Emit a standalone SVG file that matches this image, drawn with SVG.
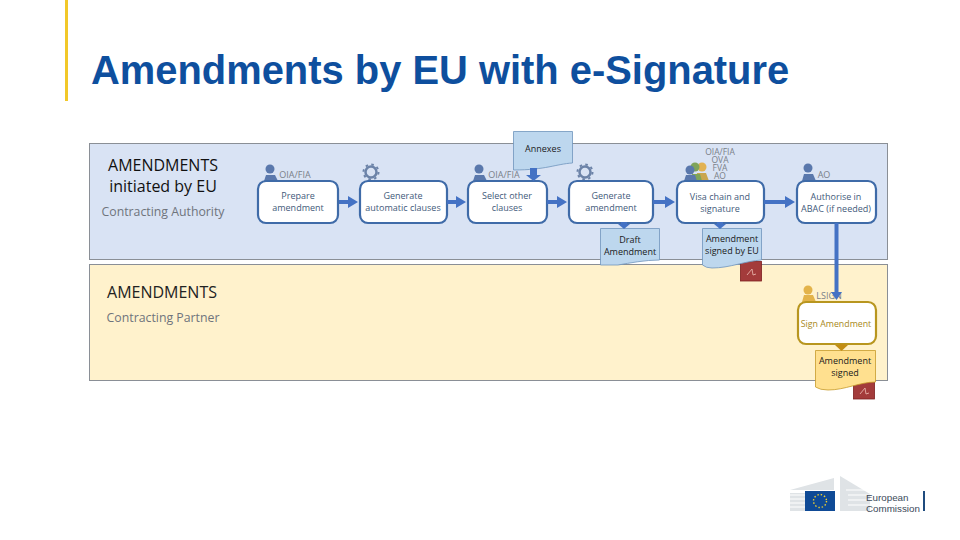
<svg xmlns="http://www.w3.org/2000/svg" width="960" height="540" viewBox="0 0 960 540">
<style>
text{font-family:"Open Sans","Noto Sans","Liberation Sans",sans-serif;text-anchor:middle}
.t{font-size:9px;fill:#3f5a7a}
.k{font-size:9px;fill:#1a1a1a}
.g{font-size:9px;fill:#7a7f88}
.m{font-size:8.500px;fill:#7a7f88}
.box{fill:#fff;stroke:#3f6ba8;stroke-width:2.2}
.doc{fill:#bdd7ee;stroke:#6f94bd;stroke-width:.8}
.ydoc{fill:#ffe08f;stroke:#c79b2a;stroke-width:.8}
.con{stroke:#4472c4;stroke-width:4;fill:none}
.ah{fill:#4472c4}
.p{fill:#5a78ac}
.gear{fill:none;stroke:#6c83a8;stroke-width:2.5}
.seal{fill:#a33b3b;stroke:#7d1f1f;stroke-width:.8}
.pen{fill:none;stroke:#e7b0a8;stroke-width:.9}
</style>
<rect width="960" height="540" fill="#fff"/>
<rect id="accent" x="65" y="0" width="3" height="101" fill="#f2c829"/>
<text id="title" x="91" y="84" style="font-family:'Liberation Sans',Arial,sans-serif;font-size:39.900px;font-weight:bold;fill:#0e4f9e;text-anchor:start">Amendments by EU with e-Signature</text>

<g id="lane-ca">
<rect x="89.500" y="143.500" width="798" height="116" fill="#d9e3f4" stroke="#8a8f96"/>
<text x="163" y="171" style="font-size:16px;fill:#111">AMENDMENTS</text>
<text x="163" y="192" style="font-size:16px;fill:#111">initiated by EU</text>
<text x="163" y="216" style="font-size:12.300px;fill:#6f747c">Contracting Authority</text>
</g>
<g id="lane-cp">
<rect x="89.500" y="264.500" width="798" height="116" fill="#fff2cc" stroke="#8a8f96"/>
<text x="162" y="298" style="font-size:16px;fill:#222">AMENDMENTS</text>
<text x="163" y="322" style="font-size:12.300px;fill:#6f747c">Contracting Partner</text>
</g>

<g id="prepare">
<g class="p"><circle cx="270" cy="169" r="4.500"/><path d="M264 181l2-6h9l3 6z"/></g>
<text class="g" x="295" y="178">OIA/FIA</text>
<rect class="box" x="258" y="181" width="80" height="42" rx="8"/>
<text class="t" x="298" y="199">Prepare</text><text class="t" x="298" y="211">amendment</text>
</g>
<g id="generate-clauses">
<circle class="gear" cx="371" cy="172" r="5.500"/>
<circle cx="371" cy="172" r="7.500" fill="none" stroke="#6c83a8" stroke-width="2" stroke-dasharray="2.500 3.400"/>
<rect class="box" x="360" y="181" width="87" height="42" rx="8"/>
<text class="t" x="403" y="199">Generate</text><text class="t" x="403" y="211">automatic clauses</text>
</g>
<g id="select">
<g class="p"><circle cx="479" cy="169" r="4.500"/><path d="M473 181l2-6h9l3 6z"/></g>
<text class="g" x="504" y="178">OIA/FIA</text>
<rect class="box" x="468" y="181" width="79" height="42" rx="8"/>
<text class="t" x="507" y="199">Select other</text><text class="t" x="507" y="211">clauses</text>
</g>
<g id="annexes">
<path class="doc" d="M513.500 131.500H572.500V163C556 164 546 170 513.500 170Z"/>
<text class="k" x="543" y="152">Annexes</text>
</g>
<g id="generate-amendment">
<circle class="gear" cx="585" cy="172" r="5.500"/>
<circle cx="585" cy="172" r="7.500" fill="none" stroke="#6c83a8" stroke-width="2" stroke-dasharray="2.500 3.400"/>
<rect class="box" x="569" y="181" width="84" height="42" rx="8"/>
<text class="t" x="611" y="199">Generate</text><text class="t" x="611" y="211">amendment</text>
</g>
<g id="draft">
<path class="doc" d="M600.500 228.500H659.500V260C645 260 630 263 618 265H600.500Z"/>
<text class="k" x="630" y="243">Draft</text><text class="k" x="630" y="255">Amendment</text>
</g>
<g id="visa">
<circle cx="702" cy="167" r="4.500" fill="#e2b252"/><circle cx="695" cy="167" r="4.500" fill="#7fa45a"/><circle cx="690" cy="170" r="4.500" fill="#5a78ac"/>
<path d="M696 181l1-8h9l3 8z" fill="#c9a64f"/><path d="M691 181l1-7h8l2 7z" fill="#7fa45a"/><path d="M684 181l2-6h9l2 6z" fill="#5a78ac"/>
<text class="m" x="720" y="155">OIA/FIA</text><text class="m" x="720" y="163">OVA</text><text class="m" x="720" y="171">FVA</text><text class="m" x="720" y="179">AO</text>
<rect class="box" x="677" y="181" width="87" height="42" rx="8"/>
<text class="t" x="720" y="200">Visa chain and</text><text class="t" x="720" y="212">signature</text>
</g>
<g id="signed-eu">
<rect class="seal" x="740.500" y="261.500" width="21" height="19.500"/>
<path class="pen" d="M747 275l5-6 1 6 3-1"/>
<path class="doc" d="M702.500 228.500H761.500V260C745 261 730 268 712 268Q706 268 702.500 265Z"/>
<text class="k" x="732" y="242">Amendment</text><text class="k" x="732" y="254">signed by EU</text>
</g>
<g id="authorise">
<g class="p"><circle cx="808" cy="168" r="4.500"/><path d="M802 181l2-7h9l3 7z"/></g>
<text class="g" x="824" y="178">AO</text>
<rect class="box" x="797" y="181" width="79" height="42" rx="8"/>
<text class="t" x="836" y="200">Authorise in</text><text class="t" x="836" y="212">ABAC (if needed)</text>
</g>
<g id="sign">
<g fill="#e3b34a"><circle cx="808" cy="290" r="4.500"/><path d="M802 302l2-7h9l3 7z"/></g>
<text class="g" x="829" y="299">LSIGN</text>
<rect x="798" y="302" width="78" height="42" rx="8" fill="#fff" stroke="#b8961f" stroke-width="2.200"/>
<text x="836" y="327" style="font-size:8.800px;fill:#a8891c">Sign Amendment</text>
</g>
<g id="signed">
<rect class="seal" x="853.500" y="381.500" width="21" height="17.500"/>
<path class="pen" d="M860 394l5-6 1 6 3-1"/>
<path class="ydoc" d="M815.500 350.500H875.500V382C860 382 845 390 828 390Q820 390 815.500 387Z"/>
<text class="k" x="845" y="364">Amendment</text><text class="k" x="845" y="376">signed</text>
</g>

<g id="connectors">
<path class="con" d="M339 202H350M447 202H458M547 202H559M653 202H667M764 202H787"/>
<path class="ah" d="M348 196l10 6-10 6zM456 196l10 6-10 6zM557 196l10 6-10 6zM665 196l10 6-10 6zM785 196l10 6-10 6z"/>
<path class="con" d="M533.500 168V176" style="stroke-width:7"/>
<path class="ah" d="M526 175h15l-7.500 6z"/>
<path class="con" d="M624 222V225" style="stroke-width:6"/>
<path class="ah" d="M618 224h12l-6 5z"/>
<path class="con" d="M720 222V225" style="stroke-width:6"/>
<path class="ah" d="M714 224h12l-6 5z"/>
<path class="con" d="M836.500 223V294"/>
<path class="ah" d="M831 292h11l-5.500 8z"/>
<path d="M842 344V346" stroke="#c28d14" stroke-width="6"/>
<path d="M835 345h13l-6.500 6z" fill="#c28d14"/>
</g>

<g id="logo">
<path d="M790 490L834 478V490H790ZM790 493H834V511H790Z" fill="#dfe3e6"/>
<path d="M840 476L870 494V511H840Z" fill="#dfe3e6"/>
<path d="M790 495H805M790 499H805M790 503H805M790 507H805M846 490H870M848 495H870M848 500H870M848 505H870" stroke="#fff" stroke-width="1"/>
<rect x="805" y="491" width="30" height="20" fill="#0f4a96"/>
<circle cx="820" cy="501" r="6.500" fill="none" stroke="#f2d230" stroke-width="1.400" stroke-dasharray="1.400 2"/>
<text x="866" y="501" style="font-family:'Liberation Sans',Arial,sans-serif;font-size:9.800px;fill:#3b4a5a;text-anchor:start">European</text>
<text x="866" y="512" style="font-family:'Liberation Sans',Arial,sans-serif;font-size:9.800px;fill:#3b4a5a;text-anchor:start">Commission</text>
<rect x="923" y="491" width="2" height="20" fill="#1f4b7e"/>
</g>
</svg>
